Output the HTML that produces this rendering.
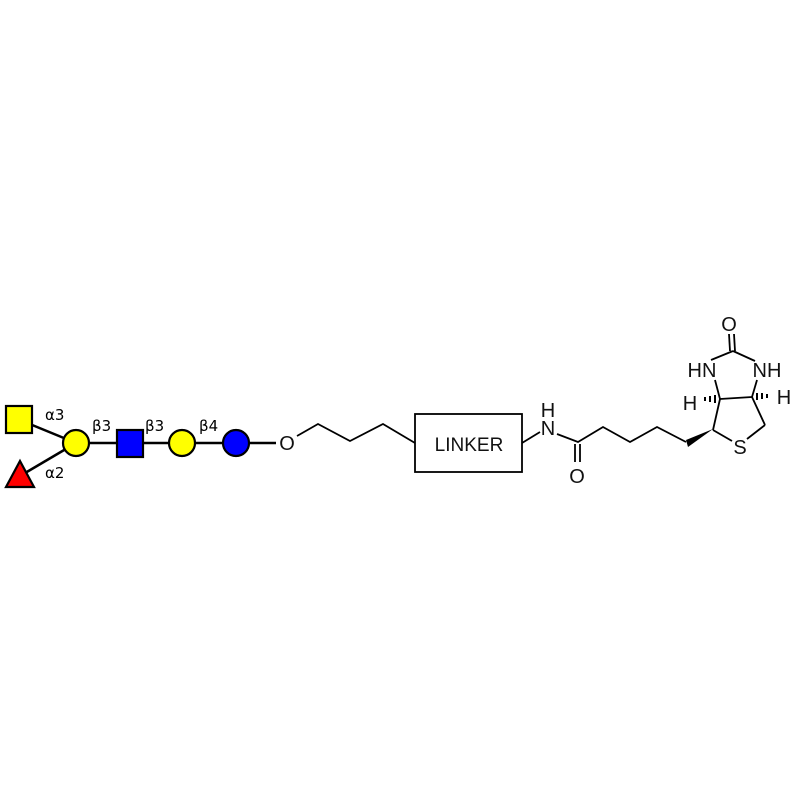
<!DOCTYPE html>
<html><head><meta charset="utf-8"><style>html,body{margin:0;padding:0;background:#fff}</style></head>
<body>
<svg width="800" height="800" viewBox="0 0 800 800" xmlns="http://www.w3.org/2000/svg" font-family="Liberation Sans, sans-serif">
<rect width="800" height="800" fill="#fff"/>
<g stroke="#000" stroke-width="2.5">
<line x1="20" y1="420" x2="76" y2="443"/>
<line x1="20" y1="476" x2="76" y2="443"/>
<line x1="76" y1="443" x2="276" y2="443"/>
</g>
<g stroke="#000" stroke-width="2.2">
<rect x="6" y="406" width="26" height="27" fill="#ffff00"/>
<polygon points="20,461 34,487 6,487" fill="#ff0000"/>
<circle cx="76" cy="443" r="13" fill="#ffff00"/>
<rect x="117" y="430" width="26" height="27" fill="#0000ff"/>
<circle cx="182" cy="443" r="13" fill="#ffff00"/>
<circle cx="236" cy="443" r="13" fill="#0000ff"/>
</g>
<g font-family="DejaVu Sans, sans-serif" font-size="15" fill="#000">
<text x="45" y="420">α3</text>
<text x="45" y="478">α2</text>
<text x="92" y="431">β3</text>
<text x="145" y="431">β3</text>
<text x="199" y="431">β4</text>
</g>
<g fill="none" stroke="#000" stroke-width="1.8">
<polyline points="297,436 318,424 350,441 383,424 415,443"/>
<rect x="415" y="414" width="107" height="58"/>
<line x1="522" y1="443" x2="540" y2="432"/>
<polyline points="557,434 578,442 603,427 630,442 657,427 686,442"/>
<line x1="575" y1="444" x2="575" y2="462"/>
<line x1="580" y1="444" x2="580" y2="462"/>
<line x1="713" y1="430" x2="720" y2="399"/>
<line x1="720" y1="399" x2="752" y2="397"/>
<line x1="752" y1="397" x2="765" y2="425"/>
<line x1="765" y1="425" x2="747" y2="439"/>
<line x1="713" y1="430" x2="732" y2="441"/>
<line x1="720" y1="399" x2="715" y2="380"/>
<line x1="752" y1="397" x2="757" y2="380"/>
<line x1="711" y1="360" x2="733" y2="351"/>
<line x1="733" y1="351" x2="755" y2="361"/>
<line x1="730" y1="351" x2="729" y2="334"/>
<line x1="735" y1="351" x2="734" y2="334"/>
</g>
<polygon points="686,440 713,429 688,447" fill="#000"/>
<g stroke="#000" stroke-width="2">
<line x1="715" y1="395" x2="715" y2="403"/>
<line x1="710" y1="396" x2="710" y2="402"/>
<line x1="705" y1="397" x2="705" y2="401"/>
<line x1="757" y1="393" x2="757" y2="400"/>
<line x1="762" y1="393" x2="762" y2="399"/>
<line x1="767" y1="394" x2="767" y2="398"/>
</g>
<g font-size="20" fill="#111">
<text x="287" y="450" text-anchor="middle">O</text>
<text x="469" y="451" text-anchor="middle" font-size="19">LINKER</text>
<text x="548" y="435" text-anchor="middle">N</text>
<text x="548" y="417" text-anchor="middle">H</text>
<text x="577" y="483" text-anchor="middle">O</text>
<text x="729" y="331" text-anchor="middle">O</text>
<text x="702" y="377" text-anchor="middle">HN</text>
<text x="767" y="377" text-anchor="middle">NH</text>
<text x="690" y="410" text-anchor="middle">H</text>
<text x="784" y="404" text-anchor="middle">H</text>
<text x="740" y="454" text-anchor="middle">S</text>
</g>
</svg>
</body></html>
